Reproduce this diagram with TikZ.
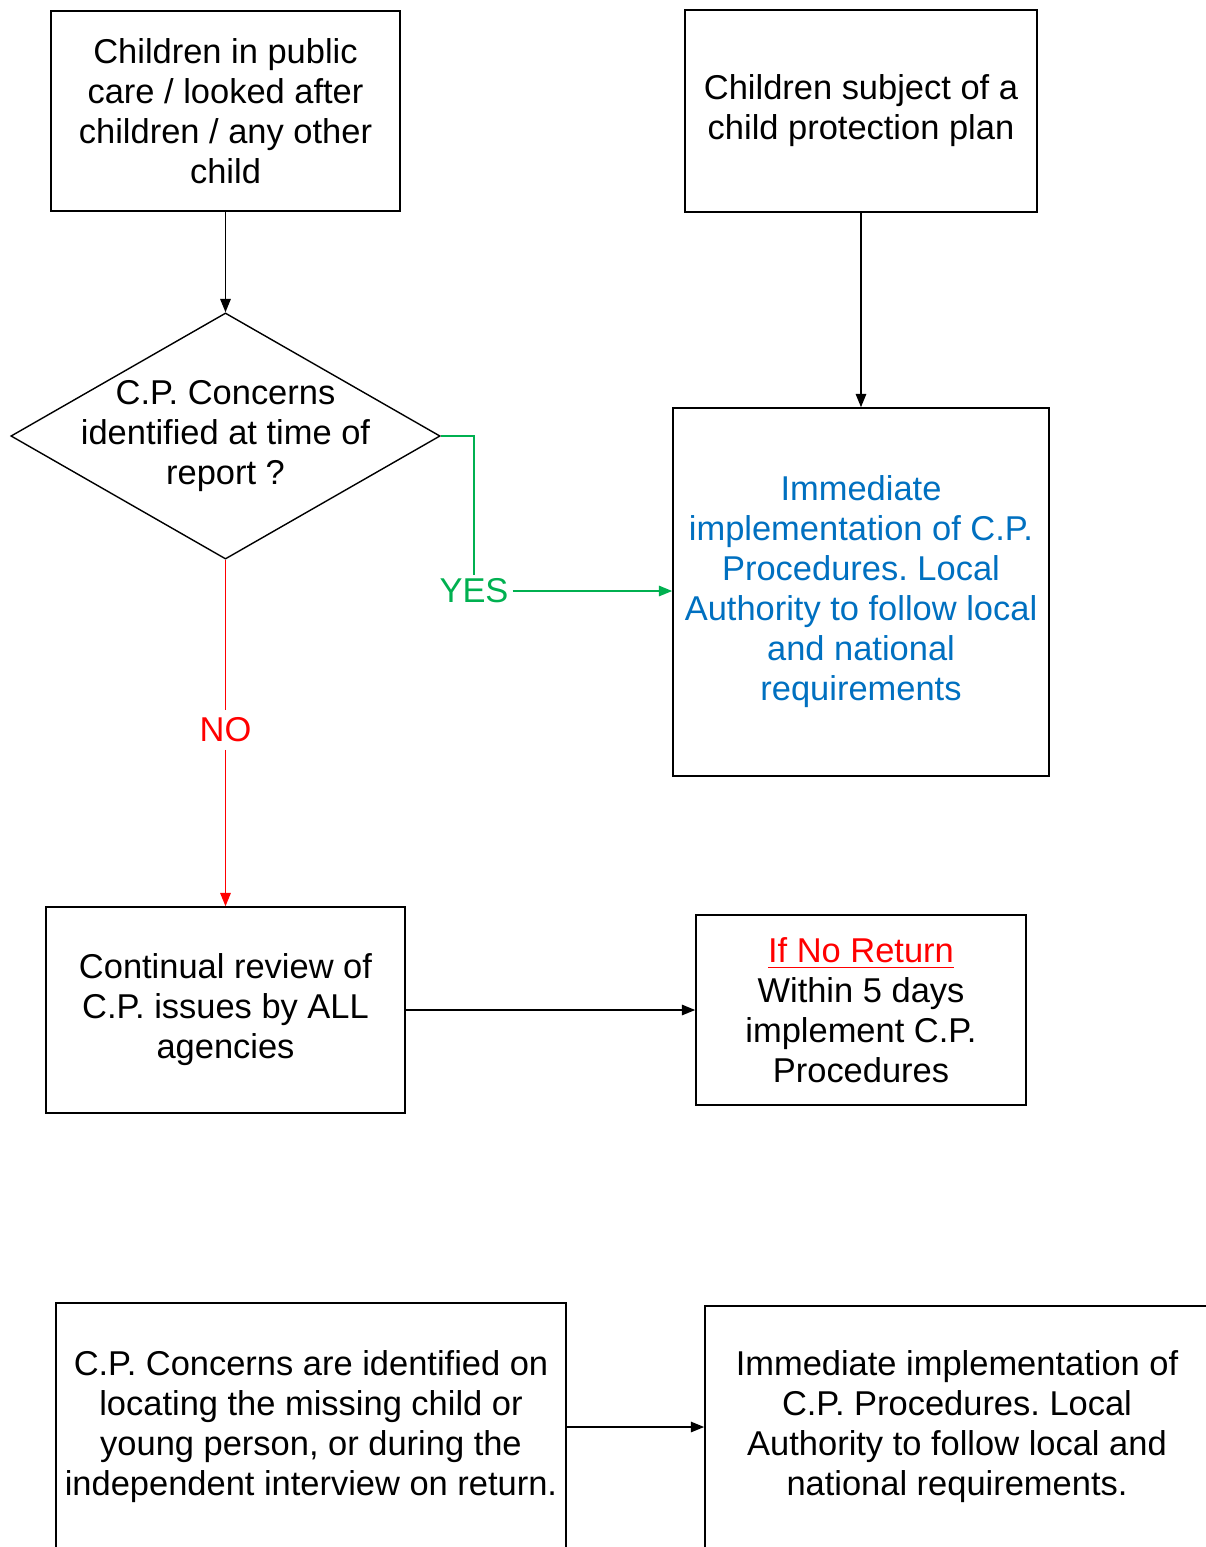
\documentclass[tikz,border=0pt]{standalone}
\usepackage{fontspec}
\setmainfont{Liberation Sans}
\frenchspacing
\usetikzlibrary{shapes.geometric,arrows.meta}
\definecolor{cpblue}{HTML}{0070C0}
\definecolor{cpgreen}{HTML}{00B050}
\tikzset{
  box/.style={draw, inner sep=0pt, align=center},
  arr/.style={-{Triangle[length=3.8pt,width=3pt]}, line width=0.4pt},
}
\begin{document}
\begin{tikzpicture}[x=0.01cm, y=-0.01cm, line width=0.4pt,
    every node/.style={font=\fontsize{9.8}{11.38}\selectfont}]
    \useasboundingbox (0,0) rectangle (1206,1547);

    % top row
    \node[box, minimum width=3.49cm, minimum height=2.00cm] (care) at (225.5,111)
        {Children in public\\care / looked after\\children / any other\\child};
    \node[box, minimum width=3.52cm, minimum height=2.02cm] (plan) at (861,111)
        {Children subject of a\\child protection plan};

    % decision
    \node[diamond, draw, inner sep=0pt, minimum width=4.29cm, minimum height=2.46cm] (cpc) at (225.5,436) {};
    \node[align=center] at (cpc) {C.P. Concerns\\identified at time of\\report ?};

    \node[box, text=cpblue, minimum width=3.76cm, minimum height=3.68cm] (immed) at (861,592)
        {Immediate\\implementation of C.P.\\Procedures. Local\\Authority to follow local\\and national\\requirements};

    % middle row
    \node[box, minimum width=3.59cm, minimum height=2.06cm] (review) at (225.5,1010)
        {Continual review of\\C.P. issues by ALL\\agencies};
    \node[box, minimum width=3.30cm, minimum height=1.90cm] (noreturn) at (861,1010)
        {\textcolor{red}{\underline{If No Return}}\\Within 5 days\\implement C.P.\\Procedures};

    % bottom row
    \node[box, minimum width=5.10cm, minimum height=2.48cm] (found) at (311,1427)
        {C.P. Concerns are identified on\\locating the missing child or\\young person, or during the\\independent interview on return.};
    \node[box, minimum width=5.04cm, minimum height=2.42cm] (immedb) at (957,1427)
        {Immediate implementation of\\C.P. Procedures. Local\\Authority to follow local and\\national requirements.};

    % labels
    \node[text=cpgreen, inner sep=1pt] (yes) at (474,591) {YES};
    \node[text=red, inner sep=2pt] (no) at (225.5,730) {NO};

    % connectors
    \draw[arr] (care) -- (cpc);
    \draw[arr] (plan) -- (immed);
    \draw[cpgreen] (cpc.east) -| (yes.north);
    \draw[arr, cpgreen] (yes.east) -- (immed.west |- yes.east);
    \draw[red] (cpc.south) -- (no.north);
    \draw[arr, red] (no.south) -- (review.north);
    \draw[arr] (review) -- (noreturn);
    \draw[arr] (found) -- (immedb);
\end{tikzpicture}
\end{document}
